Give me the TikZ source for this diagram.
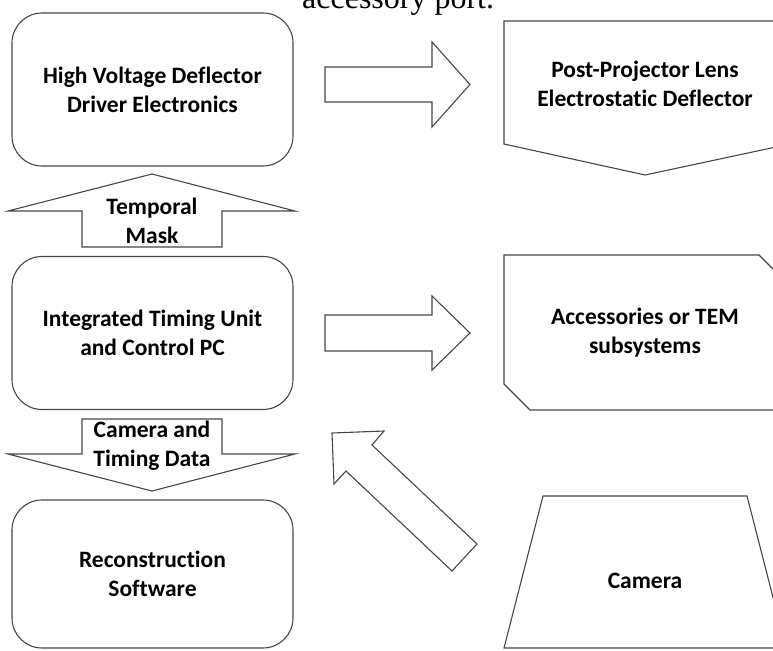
\documentclass[tikz,border=0pt]{standalone}
\usepackage{fontspec}
\setmainfont{Carlito}[Ligatures=NoCommon]
\newfontfamily\captionserif{Liberation Serif}
\begin{document}
\begin{tikzpicture}[x=1pt,y=-1pt,
  outline/.style={draw=black!72, line width=1.1pt, line join=miter},
  txt/.style={align=center, inner sep=0pt, font=\fontsize{23.5}{29}\selectfont\bfseries},
  block/.style={outline, txt, rounded corners=30pt, minimum width=281pt, minimum height=153pt},
]
\useasboundingbox (0,0) rectangle (773,650);
\clip (0,0) rectangle (773,650);

% caption line running above the figure
\node[font=\captionserif\fontsize{32}{36}\selectfont, anchor=base west, inner sep=0pt]
  (caption) at (302,9) {accessory port.};

% left column: rounded blocks
\node[block] (hv)  at (152.5,89.5) {High Voltage Deflector\\Driver Electronics};
\node[block] (itu) at (152.5,333)  {Integrated Timing Unit\\and Control PC};
\node[block, minimum height=148pt] (rec) at (152.5,574) {Reconstruction\\Software};

% block arrow up: timing unit -> deflector driver
\draw[outline] (152,174) -- (295,211) -- (222,211) -- (222,247) -- (82,247)
  -- (82,211) -- (8,211) -- cycle;
\node[txt] (mask) at (152,221) {Temporal\\Mask};

% block arrow down: timing unit -> reconstruction
\draw[outline] (82,419) -- (222,419) -- (222,454) -- (295,454) -- (152,491)
  -- (8,454) -- (82,454) -- cycle;
\node[txt] (data) at (152,446) {Camera and\\Timing Data};

% right column shapes
\draw[outline] (504,21) -- (790,21) -- (790,144) -- (645,175) -- (504,144) -- cycle;
\node[txt] (ppl) at (645,84) {Post-Projector Lens\\Electrostatic Deflector};

\draw[outline] (504,255) -- (759,255) -- (786,282) -- (786,410) -- (530,410)
  -- (504,384) -- cycle;
\node[txt] (acc) at (645,333) {Accessories or TEM\\subsystems};

\draw[outline] (543,496) -- (747,496) -- (786,648) -- (504,648) -- cycle;
\node[txt] (cam) at (645,581) {Camera};

% block arrows to the right
\draw[outline] (325,67) -- (432,67) -- (432,42) -- (470,84.5) -- (432,127)
  -- (432,102) -- (325,102) -- cycle;
\draw[outline] (325,315) -- (432,315) -- (432,296) -- (470,333) -- (432,370)
  -- (432,351) -- (325,351) -- cycle;

% diagonal block arrow: camera -> timing unit
\draw[outline] (332,433) -- (384,431) -- (372,445) -- (477,544) -- (452,571)
  -- (346,471) -- (334,484) -- cycle;
\end{tikzpicture}
\end{document}
